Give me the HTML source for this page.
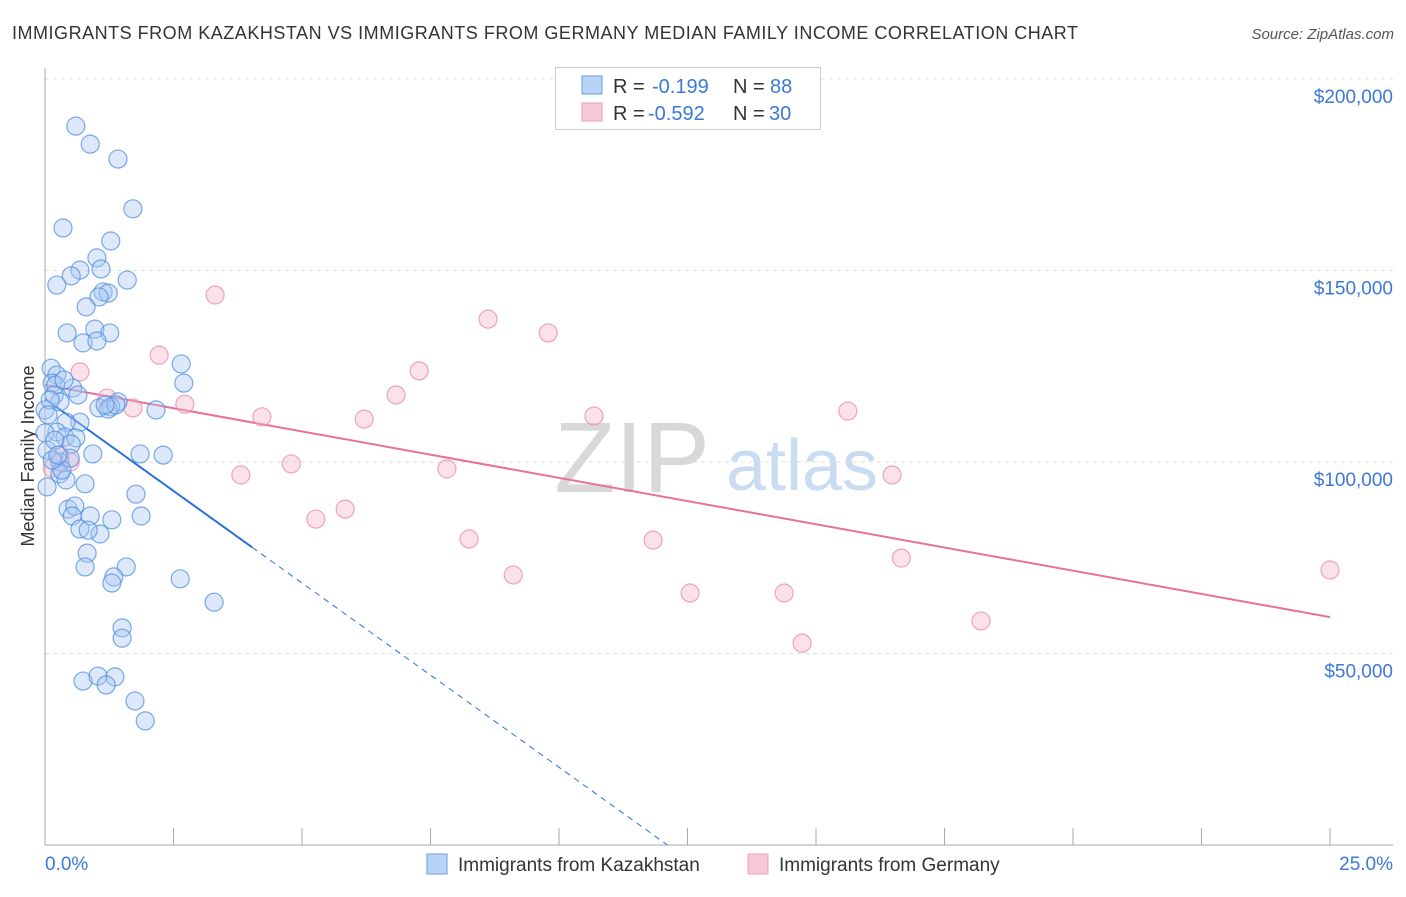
<!DOCTYPE html>
<html><head><meta charset="utf-8"><style>
body{margin:0;background:#fff;font-family:"Liberation Sans",sans-serif}
svg text{font-family:"Liberation Sans",sans-serif}
</style></head><body>
<svg id="chart" width="1406" height="892" xmlns="http://www.w3.org/2000/svg">
<text x="12" y="39" font-size="18" fill="#333" textLength="1066" lengthAdjust="spacing">IMMIGRANTS FROM KAZAKHSTAN VS IMMIGRANTS FROM GERMANY MEDIAN FAMILY INCOME CORRELATION CHART</text>
<text x="1394" y="39" font-size="15" fill="#555" font-style="italic" text-anchor="end">Source: ZipAtlas.com</text>
<text x="632" y="492" font-size="100" fill="#d8d8d8" font-family="Liberation Serif" text-anchor="middle">ZIP</text>
<text x="802" y="490" font-size="72" fill="#c9dcf2" text-anchor="middle">atlas</text>
<g id="grid"></g><g id="axes"></g>
<text transform="translate(34,456) rotate(-90)" font-size="18" fill="#333" text-anchor="middle">Median Family Income</text>
<g id="lines"></g><g id="points"></g>
<g>
<rect x="555.5" y="67.5" width="265" height="62" fill="#fff" stroke="#ccc"/>
<rect x="582" y="76" width="20" height="18" fill="#b8d3f5" stroke="#6a9de0"/>
<rect x="582" y="103" width="20" height="18" fill="#f9c8d7" stroke="#eba0bc"/>
<text x="613" y="93" font-size="20" fill="#333">R =</text>
<text x="652" y="93" font-size="20" fill="#3b78d8">-0.199</text>
<text x="733" y="93" font-size="20" fill="#333">N =</text>
<text x="770" y="93" font-size="20" fill="#3b78d8">88</text>
<text x="613" y="120" font-size="20" fill="#333">R =</text>
<text x="648" y="120" font-size="20" fill="#3b78d8">-0.592</text>
<text x="733" y="120" font-size="20" fill="#333">N =</text>
<text x="769" y="120" font-size="20" fill="#3b78d8">30</text>
</g>
<g>
<rect x="427" y="854" width="20" height="20" fill="#b8d3f5" stroke="#6a9de0"/>
<text x="458" y="871" font-size="19" fill="#333">Immigrants from Kazakhstan</text>
<rect x="748" y="854" width="20" height="20" fill="#f9c8d7" stroke="#eba0bc"/>
<text x="779" y="871" font-size="19" fill="#333">Immigrants from Germany</text>
</g>
</svg>
<script>
const xTickLabels=["0.0%","25.0%"];
const yTicks=[50000,100000,150000,200000];
const yTickLabels=["$50,000","$100,000","$150,000","$200,000"];
const kazX=[0.60,0.88,1.42,1.71,0.35,1.28,1.01,0.68,1.09,0.51,1.60,0.23,1.13,1.23,1.05,0.80,0.43,0.97,1.26,0.74,1.01,2.65,0.12,0.23,0.14,0.21,0.54,2.70,0.18,0.29,1.42,1.05,1.28,1.23,1.38,2.16,0,0.68,0.41,0.23,0,0.39,0.60,0.51,0.93,1.85,2.30,0.04,0.29,0.49,0.29,0.41,0.78,0.04,1.77,0.45,0.58,0.88,0.53,1.87,1.30,0.68,1.07,0.84,0.82,0.78,1.58,1.34,1.30,2.63,3.29,1.50,1.50,0.74,1.03,1.36,1.19,1.75,1.95,0.10,0.06,0.19,0.33,0.14,0.64,1.17,0.37,0.25];
const kazY=[187700,183000,179100,166100,161100,157700,153300,150100,150400,148600,147500,146200,144400,144100,143100,140500,133700,134700,133700,131100,131600,125600,124500,122700,120600,120100,119300,120600,117500,115700,115700,114100,114400,113800,114900,113600,113600,110400,110400,107800,107600,106500,106300,104700,102100,102100,101800,103100,100000,101000,96900,95300,94300,93500,91600,87700,88500,85900,85900,85900,84900,82500,81200,82200,76200,72600,72600,70000,68400,69500,63400,56700,54000,42800,44100,43900,41800,37600,32400,116200,112300,105700,97900,100500,117500,114900,121400,101800];
const gerX=[3.31,8.62,9.79,2.22,0.68,7.28,1.21,6.83,1.71,2.72,4.22,10.68,6.21,15.62,0.29,0.49,4.79,7.82,3.81,16.48,0.14,5.84,5.27,8.25,11.83,9.11,25.0,16.66,12.55,14.38,14.73,18.21];
const gerY=[143600,137300,133700,127900,123500,123800,116700,117500,114100,115100,111800,112000,111200,113300,101800,100000,99500,98200,96600,96600,98400,87700,85100,79900,79600,70500,71800,74900,65800,65800,52700,58500];
const kazFit=[116500,-9620];
const gerFit=[120100,-2424];
const NS="http://www.w3.org/2000/svg";
const X0=45,X1=1330,Y0=845,YPX=191.5/50000;
const sx=v=>X0+(v/25)*(X1-X0);
const sy=v=>Y0-v*YPX;
function el(t,a,p){const e=document.createElementNS(NS,t);for(const k in a)e.setAttribute(k,a[k]);document.getElementById(p).appendChild(e);return e;}
yTicks.forEach((t,i)=>{
  const g=el('line',{x1:45,x2:1393,y1:sy(t),y2:sy(t),stroke:'#ddd','stroke-dasharray':'4,4'},'grid');
  
  
  const tx=el('text',{x:1393,y:sy(t)+24,'font-size':19,fill:'#3b78d8','text-anchor':'end'},'axes');
  tx.textContent=yTickLabels[i];
  
  
});
const ax=el('line',{x1:45,x2:45,y1:68,y2:845,stroke:'#aaa'},'axes');


const bx=el('line',{x1:45,x2:1393,y1:845,y2:845,stroke:'#aaa'},'axes');


for(let i=0;i<=10;i++){
  const t=el('line',{x1:sx(i*2.5),x2:sx(i*2.5),y1:828,y2:845,stroke:'#aaa'},'axes');
  
  
}
[[0,'start',45],[25,'end',1393]].forEach((d,i)=>{
  const t=el('text',{x:d[2],y:870,'font-size':19,fill:'#3b78d8','text-anchor':d[1]},'axes');
  t.textContent=xTickLabels[i];
  
  
});
function pts(xs,ys,fill,stroke,name){
  xs.forEach((x,i)=>{
    const c=el('circle',{cx:sx(x),cy:sy(ys[i]),r:9,fill:fill,'fill-opacity':0.4,stroke:stroke,'stroke-width':1.2,'stroke-opacity':0.75},'points');
    
    
  });
}
pts(gerX,gerY,'#f4b3c8','#e88aaa','germany-point');
pts(kazX,kazY,'#a9c9f2','#4f8ee0','kazakhstan-point');
const f=(fit,x)=>fit[0]+fit[1]*x;
const ks=4.03,ke=-kazFit[0]/kazFit[1];
const l1=el('line',{x1:sx(0),y1:sy(f(kazFit,0)),x2:sx(ks),y2:sy(f(kazFit,ks)),stroke:'#2a72d8','stroke-width':2},'lines');


const l2=el('line',{x1:sx(ks),y1:sy(f(kazFit,ks)),x2:sx(ke),y2:sy(0),stroke:'#2a72d8','stroke-width':1,'stroke-dasharray':'6,5'},'lines');


const l3=el('line',{x1:sx(0),y1:sy(f(gerFit,0)),x2:sx(25),y2:sy(f(gerFit,25)),stroke:'#e8709a','stroke-width':2},'lines');


</script>
</body></html>
